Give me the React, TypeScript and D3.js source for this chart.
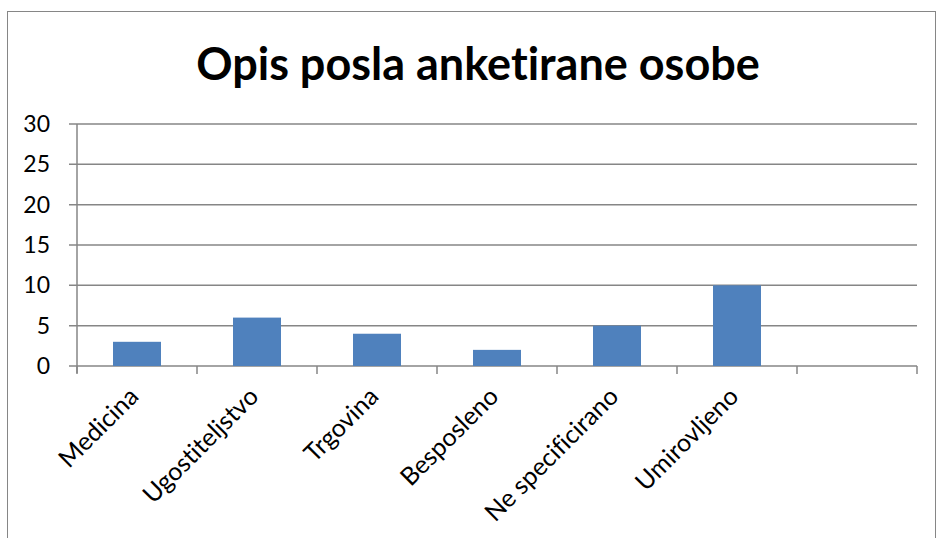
import React from "react";
import * as d3 from "d3";

const categories = ["Medicina", "Ugostiteljstvo", "Trgovina", "Besposleno", "Ne specificirano", "Umirovljeno", ""];
const values = [3, 6, 4, 2, 5, 10, null];
const yTicks = [0, 5, 10, 15, 20, 25, 30];

const W = 938;
const H = 538;
const left = 77;
const right = 917;
const top = 124;
const bottom = 366;
const font = "Lato, 'Open Sans', sans-serif";

const App = () => {
  const x = d3.scaleBand<string>().domain(categories.map((c, i) => i + "")).range([left, right]).paddingInner(0.6).paddingOuter(0.3);
  const slot = d3.scaleLinear().domain([0, categories.length]).range([left, right]);
  const y = d3.scaleLinear().domain([0, 30]).range([bottom, top]);

  return (
    <svg width={W} height={H} style={{ position: "absolute", left: 0, top: 0, fontVariantLigatures: "none" }}>
      <rect x={7.5} y={11.5} width={928} height={540} fill="white" stroke="#868686" strokeWidth={1} />
      <text x={478} y={80} textAnchor="middle" fontFamily={font} fontWeight="bold" fontSize={45} fill="#000">
        Opis posla anketirane osobe
      </text>
      {yTicks.map((t) => (
        <g key={t}>
          <line x1={left - 8} x2={right} y1={y(t)} y2={y(t)} stroke="#868686" strokeWidth={1.5} />
          <text x={50} y={y(t) + 8} textAnchor="end" fontFamily={font} fontSize={23} fill="#000">
            {t}
          </text>
        </g>
      ))}
      <line x1={left} x2={left} y1={top} y2={bottom + 7} stroke="#868686" strokeWidth={1.5} />
      {d3.range(categories.length + 1).map((i) => (
        <line key={i} x1={slot(i)} x2={slot(i)} y1={bottom} y2={bottom + 8} stroke="#868686" strokeWidth={1.5} />
      ))}
      {values.map((v, i) =>
        v == null ? null : (
          <rect key={i} x={x(i + "")} y={y(v)} width={x.bandwidth()} height={y(0) - y(v)} fill="#4F81BD" />
        )
      )}
      {categories.map((c, i) => {
        const cx = slot(i + 0.5) + 3;
        const cy = bottom + 32;
        return (
          <text key={i} x={cx} y={cy} textAnchor="end" transform={`rotate(-45, ${cx}, ${cy})`} fontFamily={font} fontSize={25} fill="#000">
            {c}
          </text>
        );
      })}
    </svg>
  );
};

export default App;
